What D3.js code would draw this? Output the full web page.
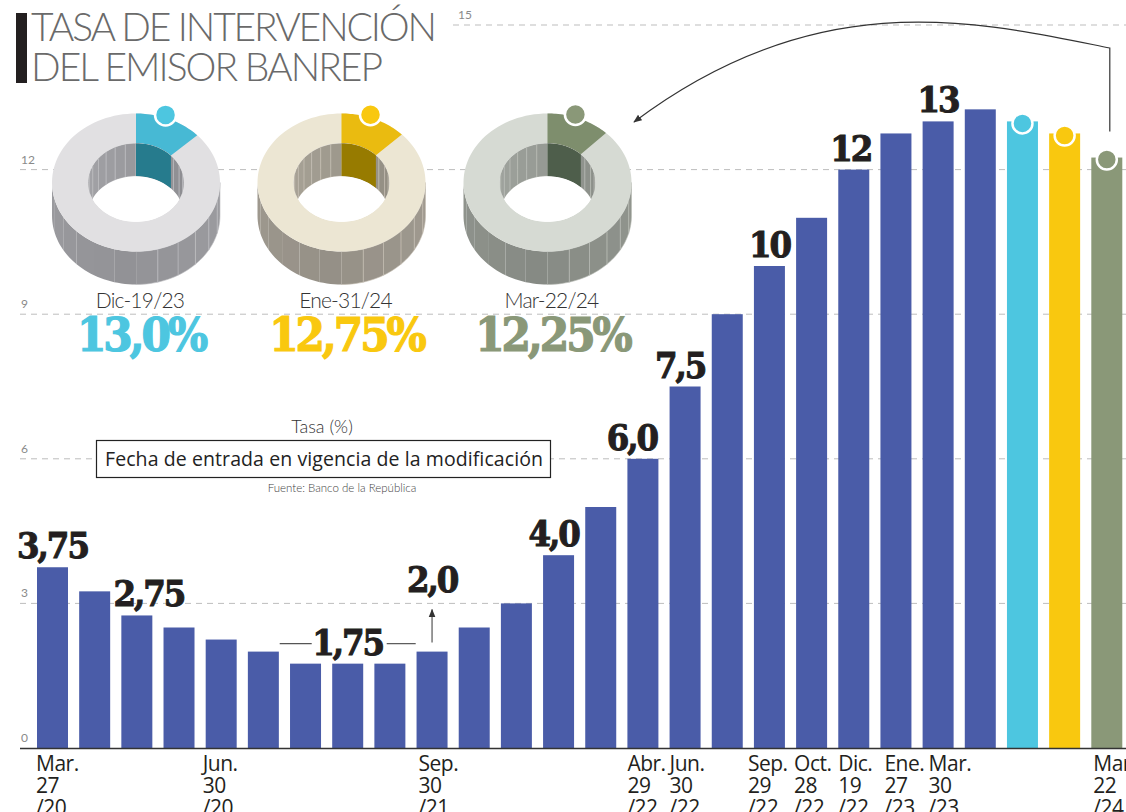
<!DOCTYPE html>
<html>
<head>
<meta charset="utf-8">
<script src="https://cdn.jsdelivr.net/npm/d3@7"></script>
<style>
  body { margin: 0; background: #fff; }
  svg { display: block; }
</style>
</head>
<body>
<div id="chart"></div>
<script>
// Tasa de intervención Banrep (%), una barra por cada modificación
const rates = [3.75, 3.25, 2.75, 2.5, 2.25, 2.0, 1.75, 1.75, 1.75, 2.0, 2.5, 3.0, 4.0,
               5.0, 6.0, 7.5, 9.0, 10.0, 11.0, 12.0, 12.75, 13.0, 13.25, 13.0, 12.75, 12.25];

// Etiquetas de fecha bajo el eje (índice de barra + líneas)
const dateLabels = [
  { i: 0,  lines: ["Mar.", "27", "/20"] },
  { i: 4,  lines: ["Jun.", "30", "/20"] },
  { i: 9,  lines: ["Sep.", "30", "/21"] },
  { i: 14, lines: ["Abr.", "29", "/22"] },
  { i: 15, lines: ["Jun.", "30", "/22"] },
  { i: 17, lines: ["Sep.", "29", "/22"] },
  { i: 18, lines: ["Oct.", "28", "/22"] },
  { i: 19, lines: ["Dic.", "19", "/22"] },
  { i: 20, lines: ["Ene.", "27", "/23"] },
  { i: 21, lines: ["Mar.", "30", "/23"] },
  { i: 25, lines: ["Mar", "22", "/24"] }
];

// Valores destacados sobre las barras
const barLabels = [
  { i: 0, text: "3,75" }, { i: 2, text: "2,75" }, { i: 7, text: "1,75" },
  { i: 9, text: "2,0" }, { i: 12, text: "4,0" }, { i: 14, text: "6,0" },
  { i: 15, text: "7,5" }, { i: 17, text: "10" }, { i: 19, text: "12" },
  { i: 21, text: "13" }
];

// Últimas tres decisiones (anillos)
const highlights = [
  { i: 23, date: "Dic-19/23", value: 13.0,  text: "13,0%" },
  { i: 24, date: "Ene-31/24", value: 12.75, text: "12,75%" },
  { i: 25, date: "Mar-22/24", value: 12.25, text: "12,25%" }
];

const yTicks = [0, 3, 6, 9, 12, 15];

// ---- estilos ----
const width = 1126, height = 812;
const blue = "#4a5ca8";
const palettes = [
  { mark: "#4dc6e0", hi: "#47b9d4", hiIn: "#267b8d", top: "#e1e0e2",
    side: ["#929296", "#a6a6aa"], inner: ["#a4a4a8", "#8c8c90"], line: "#bdbdc1" },
  { mark: "#f9c80f", hi: "#eabb10", hiIn: "#977b00", top: "#ece6d3",
    side: ["#959087", "#aaa498"], inner: ["#a8a397", "#928d82"], line: "#c4beb2" },
  { mark: "#8a9878", hi: "#7e8e6d", hiIn: "#4e5e4b", top: "#d6dad3",
    side: ["#868a84", "#9ca098"], inner: ["#a0a49e", "#8a8e88"], line: "#b8bcb5" }
];
const donutCx = [136, 341.5, 547.5];
const labelNudge = { 2: 12, 12: -5, 14: -11, 15: -5, 19: -3 };
const dateNudge = { 0: -1, 4: -3, 9: 2, 17: -6, 18: -2, 20: 4, 21: 6, 25: 2 };
const slab = "'DejaVu Serif Condensed', 'DejaVu Serif', serif";
const light = "Lato, 'Open Sans', sans-serif";

const svg = d3.select("#chart").append("svg")
  .attr("width", width).attr("height", height);

const defs = svg.append("defs");
defs.append("marker").attr("id", "arr").attr("viewBox", "0 0 10 10")
  .attr("refX", 9).attr("refY", 5).attr("markerWidth", 7).attr("markerHeight", 7)
  .attr("orient", "auto-start-reverse")
  .append("path").attr("d", "M0,1 L10,5 L0,9 Z").attr("fill", "#333");

const x = d3.scaleBand().domain(d3.range(rates.length))
  .range([37, 1122.3]).paddingInner(0.265).paddingOuter(0);
const y = d3.scaleLinear().domain([0, 15]).range([748, 25]);

// ---- cuadrícula ----
svg.append("g").selectAll("line").data(yTicks.filter(d => d > 0)).join("line")
  .attr("x1", d => d === 15 ? 453 : 20).attr("x2", width)
  .attr("y1", d => y(d)).attr("y2", d => y(d))
  .attr("stroke", "#bdbdbd").attr("stroke-width", 1).attr("stroke-dasharray", "6,5");

svg.append("g").selectAll("text").data(yTicks).join("text")
  .attr("x", d => d === 15 ? 458 : 21).attr("y", d => y(d) - 6)
  .attr("font-family", light).attr("font-size", 12).attr("fill", "#8a8a8a")
  .text(d => d);

// ---- título ----
svg.append("rect").attr("x", 16).attr("y", 13).attr("width", 11).attr("height", 70).attr("fill", "#231f20");
svg.append("text").attr("x", 31).attr("y", 41).attr("font-family", light).attr("font-weight", 300)
  .attr("font-size", 39).attr("fill", "#6a6a6a").attr("textLength", 406).text("TASA DE INTERVENCIÓN");
svg.append("text").attr("x", 31).attr("y", 81).attr("font-family", light).attr("font-weight", 300)
  .attr("font-size", 39).attr("fill", "#6a6a6a").attr("textLength", 352).text("DEL EMISOR BANREP");

// ---- anillos 3D ----
function drawDonut(cx, value, pal) {
  const cy = 182.5, rx = 84, ry = 69, k = 0.57, depth = 33;
  const g = svg.append("g");
  const P = (a, r, dy) => [cx + r * rx * Math.sin(a), cy - r * ry * Math.cos(a) + dy];
  const arcPts = (a0, a1, r, dy, n) => d3.range(n + 1).map(i => P(a0 + (a1 - a0) * i / n, r, dy));
  const line = d3.line();
  const v = value / 100 * 2 * Math.PI;

  // pared exterior (mitad frontal)
  const nF = 12;
  for (let f = 0; f < nF; f++) {
    const a0 = Math.PI / 2 + f * Math.PI / nF, a1 = a0 + Math.PI / nF;
    const pts = arcPts(a0, a1, 1, 0, 6).concat(arcPts(a1, a0, 1, depth, 6));
    const t = f < nF / 2 ? 0.5 + f / nF : 1 - (f - nF / 2) / nF;
    g.append("path").attr("d", line(pts) + "Z")
      .attr("fill", d3.interpolateRgb(pal.side[1], pal.side[0])(t))
      .attr("stroke", f < nF / 2 ? pal.line : "none").attr("stroke-width", 0.6);
  }

  // cara superior
  const outer = arcPts(0, 2 * Math.PI, 1, 0, 120), inner = arcPts(0, 2 * Math.PI, k, 0, 120);
  g.append("path").attr("d", line(outer) + "Z" + line(inner) + "Z")
    .attr("fill-rule", "evenodd").attr("fill", pal.top);
  g.append("path").attr("d", line(arcPts(0, v, 1, 0, 30).concat(arcPts(v, 0, k, 0, 30))) + "Z")
    .attr("fill", pal.hi);

  // hueco interior
  const clipId = "clip" + Math.round(cx);
  defs.append("clipPath").attr("id", clipId).append("path").attr("d", line(inner) + "Z");
  const ig = g.append("g").attr("clip-path", `url(#${clipId})`);
  const nI = 14;
  for (let f = 0; f < nI; f++) {
    const a0 = -Math.PI / 2 + f * Math.PI / nI, a1 = a0 + Math.PI / nI;
    const pts = arcPts(a0, a1, k, 0, 4).concat(arcPts(a1, a0, k, depth, 4));
    ig.append("path").attr("d", line(pts) + "Z")
      .attr("fill", d3.interpolateRgb(pal.inner[0], pal.inner[1])(f / (nI - 1)))
      .attr("stroke", pal.line).attr("stroke-width", 0.6);
  }
  ig.append("path").attr("d", line(arcPts(0, v, k, 0, 20).concat(arcPts(v, 0, k, depth, 20))) + "Z")
    .attr("fill", pal.hiIn);
  ig.append("ellipse").attr("cx", cx).attr("cy", cy + depth)
    .attr("rx", k * rx).attr("ry", k * ry).attr("fill", "#fff");

  // marcador
  const m = P(v * 0.44, 1, 0);
  g.append("circle").attr("cx", m[0]).attr("cy", m[1] - 3).attr("r", 10.5)
    .attr("fill", pal.mark).attr("stroke", "#fff").attr("stroke-width", 2.5);
}
highlights.forEach((h, j) => drawDonut(donutCx[j], h.value, palettes[j]));

svg.append("g").selectAll("text").data(highlights).join("text")
  .attr("x", (d, j) => donutCx[j] + 4).attr("y", 308).attr("text-anchor", "middle")
  .attr("font-family", light).attr("font-weight", 300).attr("font-size", 21).attr("fill", "#333")
  .attr("letter-spacing", -0.8)
  .text(d => d.date);

svg.append("g").selectAll("text").data(highlights).join("text")
  .attr("x", (d, j) => donutCx[j] + 5).attr("y", 351).attr("text-anchor", "middle")
  .attr("font-family", slab).attr("font-weight", "bold").attr("font-stretch", "condensed")
  .attr("font-size", 47).attr("letter-spacing", -3).attr("fill", (d, j) => palettes[j].mark)
  .attr("stroke", (d, j) => palettes[j].mark).attr("stroke-width", 1.2)
  .text(d => d.text);

// ---- notas ----
svg.append("text").attr("x", 322).attr("y", 433).attr("text-anchor", "middle")
  .attr("font-family", light).attr("font-weight", 300).attr("font-size", 18).attr("fill", "#333").text("Tasa (%)");
svg.append("rect").attr("x", 96.5).attr("y", 440.5).attr("width", 454).attr("height", 37)
  .attr("fill", "#fff").attr("stroke", "#222").attr("stroke-width", 1.2);
svg.append("text").attr("x", 324).attr("y", 466).attr("text-anchor", "middle")
  .attr("font-family", "'Open Sans', sans-serif").attr("font-size", 19.5).attr("fill", "#222")
  .attr("textLength", 438).text("Fecha de entrada en vigencia de la modificación");
svg.append("text").attr("x", 342).attr("y", 492).attr("text-anchor", "middle")
  .attr("font-family", light).attr("font-weight", 300).attr("font-size", 11.5).attr("fill", "#444")
  .text("Fuente: Banco de la República");

// ---- barras ----
const hiColor = new Map(highlights.map((h, j) => [h.i, palettes[j].mark]));
svg.append("g").selectAll("rect").data(rates).join("rect")
  .attr("x", (d, i) => x(i)).attr("width", x.bandwidth())
  .attr("y", d => y(d)).attr("height", d => y(0) - y(d))
  .attr("fill", (d, i) => hiColor.get(i) || blue);

svg.append("g").selectAll("circle").data(highlights).join("circle")
  .attr("cx", d => x(d.i) + x.bandwidth() / 2).attr("cy", d => y(rates[d.i]) + 2)
  .attr("r", 10).attr("fill", (d, j) => palettes[j].mark)
  .attr("stroke", "#fff").attr("stroke-width", 2.5);

svg.append("line").attr("x1", 20).attr("x2", width).attr("y1", y(0) + 0.5).attr("y2", y(0) + 0.5)
  .attr("stroke", "#333").attr("stroke-width", 1.6);

// valores
svg.append("g").selectAll("text").data(barLabels).join("text")
  .attr("x", d => x(d.i) + x.bandwidth() / 2 + (labelNudge[d.i] || 0))
  .attr("y", d => d.i === 9 ? y(rates[d.i]) - 60 : y(rates[d.i]) - 9)
  .attr("text-anchor", "middle")
  .attr("font-family", slab).attr("font-weight", "bold").attr("font-stretch", "condensed")
  .attr("font-size", 36).attr("letter-spacing", -2).attr("fill", "#231f20")
  .attr("stroke", "#231f20").attr("stroke-width", 1)
  .text(d => d.text);

// rayas junto a 1,75 y flecha de 2,0
const c175 = x(7) + x.bandwidth() / 2, yl = y(rates[7]) - 20;
svg.append("line").attr("x1", c175 - 68).attr("x2", c175 - 36).attr("y1", yl).attr("y2", yl)
  .attr("stroke", "#555").attr("stroke-width", 1.2);
svg.append("line").attr("x1", c175 + 39).attr("x2", c175 + 68).attr("y1", yl).attr("y2", yl)
  .attr("stroke", "#555").attr("stroke-width", 1.2);
const c20 = x(9) + x.bandwidth() / 2;
svg.append("line").attr("x1", c20).attr("x2", c20).attr("y1", y(rates[9]) - 9).attr("y2", y(rates[9]) - 42)
  .attr("stroke", "#555").attr("stroke-width", 1.2).attr("marker-end", "url(#arr)");

// flecha curva desde la última barra hacia los anillos
const xl = x(25) + x.bandwidth() / 2 + 3;
svg.append("path")
  .attr("d", `M${xl},${y(rates[25]) - 26} L${xl},48 C980,22 820,-18 634,122`)
  .attr("fill", "none").attr("stroke", "#333").attr("stroke-width", 1.2)
  .attr("marker-end", "url(#arr)");

// fechas
const dl = svg.append("g").selectAll("text").data(dateLabels).join("text")
  .attr("font-family", "'Open Sans', sans-serif").attr("font-size", 21).attr("fill", "#231f20")
  .attr("letter-spacing", -0.5);
dl.selectAll("tspan").data(d => d.lines.map(t => ({ t, d }))).join("tspan")
  .attr("x", o => x(o.d.i) + (dateNudge[o.d.i] || 0))
  .attr("y", (o, k) => 771 + k * 22)
  .text(o => o.t);
</script>
</body>
</html>
